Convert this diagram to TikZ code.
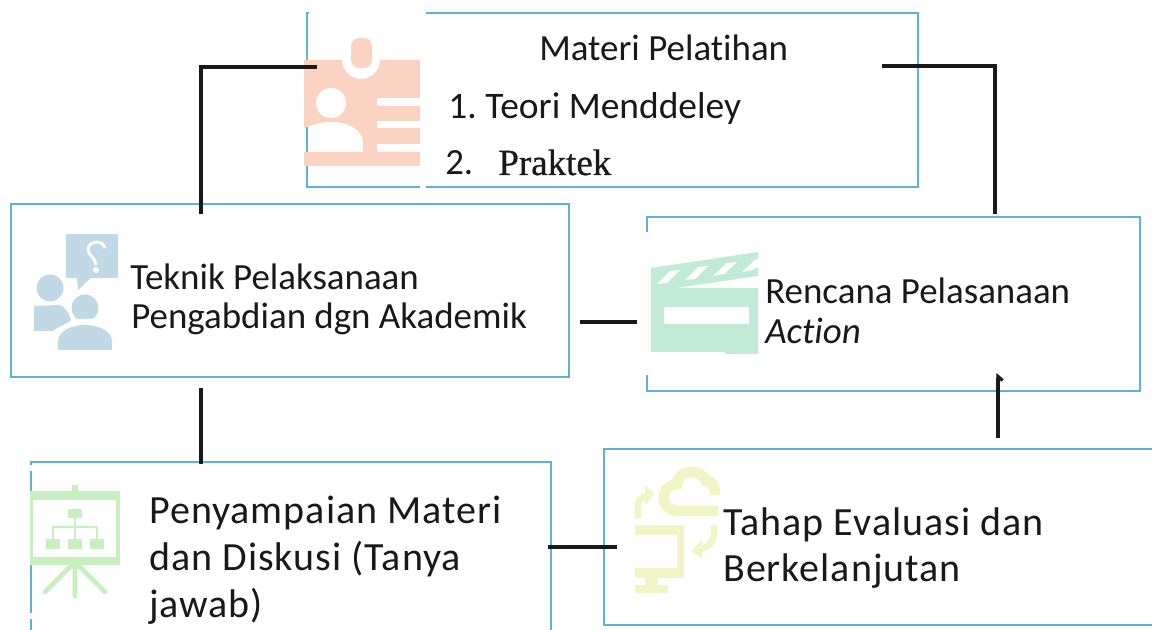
\documentclass[tikz,border=0pt]{standalone}
\usepackage{fontspec}
\setmainfont{Carlito}[Ligatures=NoCommon]
\newfontfamily\widefont{Carlito}[LetterSpace=2.5,Ligatures=NoCommon]
\newfontfamily\praktekfont{Liberation Serif}[FakeBold=0.6]
\usetikzlibrary{calc,arrows.meta}
\definecolor{boxline}{HTML}{5DB4CE}
\definecolor{badge}{HTML}{FBD3C2}
\definecolor{people}{HTML}{C0D9E5}
\definecolor{clapper}{HTML}{C1EAD7}
\definecolor{board}{HTML}{C8EFC0}
\definecolor{cloud}{HTML}{F1F5C5}
\tikzstyle{plain} = [rectangle, draw=boxline, line width=1.2pt, inner sep=0pt, outer sep=0pt]
\tikzstyle{joinline} = [line width=2.4pt, draw=black!90]
\tikzset{txt/.style={inner sep=0pt, anchor=base west, text=black!90, font=\fontsize{#1}{#1}\selectfont}}

\begin{document}
\begin{tikzpicture}[x=0.75pt, y=-0.75pt]
  \clip (0,0) rectangle (1152,630);
  \fill[white] (0,0) rectangle (1152,630);

  \node (materi) [plain, minimum width=458.25pt, minimum height=130.5pt] at (612.5,100) {};
  \node (teknik) [plain, minimum width=418.5pt, minimum height=129.75pt] at (290,290.5) {};
  \node (rencana) [plain, minimum width=369.75pt, minimum height=130.5pt] at (893.5,304) {};
  \node (penyampaian) [plain, minimum width=390pt, minimum height=133.5pt] at (291,551) {};
  \node (tahap) [plain, minimum width=424.5pt, minimum height=132pt] at (887,537) {};

  \fill[white] (309,8) rectangle (426,17);
  \fill[white] (420,8) rectangle (426,192);
  \fill[white] (642,232) rectangle (652,375);
  \fill[white] (26,465) rectangle (36,471);
  \fill[white] (26,613) rectangle (36,619);

  \fill[badge, even odd rule] (304,60) -- (342,60) arc[start angle=180, end angle=0, radius=19] -- (420,60) -- (420,166) -- (304,166) -- cycle
    (304,128) .. controls (314,124) and (322,122) .. (332,122) .. controls (348,122) and (363,130) .. (363,142) -- (363,152) -- (304,152) -- cycle
    (377,98) rectangle (420,106) (377,121) rectangle (420,128) (377,144) rectangle (420,152);
  \fill[white] (331,103) circle (15);
  \fill[badge, rounded corners=6] (351,38) rectangle (372,68);

  \fill[people] (66,234) rectangle (118,278);
  \fill[people] (77,277) -- (78,290) -- (92,277) -- cycle;
  \draw[white, line width=2.2pt] (105,248) .. controls (103,243) and (100,242) .. (97,242) .. controls (91,242) and (88,246) .. (88,250) .. controls (88,255) and (96,258) .. (96,265);
  \fill[white] (96,270) circle (3);
  \fill[people] (50,288) circle (13.5);
  \fill[people] (34,331) -- (34,306) -- (58,305) .. controls (66,306) and (69,314) .. (71,320) -- (57,331) -- cycle;
  \fill[white] (85,308) circle (16);
  \fill[people] (85,308) circle (13.5);
  \fill[white] (52,352) -- (54,330) -- (75,319) -- (100,319) -- (118,352) -- cycle;
  \fill[people] (58,350) -- (58,340) .. controls (60,330) and (72,325) .. (85,325) .. controls (98,325) and (110,330) .. (112,340) -- (112,350) -- cycle;

  \fill[clapper, even odd rule] (651,288) -- (758,288) -- (758,354) -- (725,354) -- (725,352) -- (651,352) -- cycle (664,307) rectangle (749,324);
  \fill[clapper] (651,268) -- (758,252) -- (758,276) -- (676,288) -- (651,288) -- cycle;
  \fill[white] (657,284) -- (670,271) -- (680,270) -- (667,283) -- cycle;
  \fill[white] (685,280) -- (698,267) -- (708,266) -- (695,279) -- cycle;
  \fill[white] (713,276) -- (727,263) -- (737,262) -- (724,274) -- cycle;
  \fill[white] (742,272) -- (755,260) -- (758,259) -- (758,267) -- (752,270) -- cycle;

  \fill[board] (72,485) rectangle (78,491);
  \fill[board] (30,491) rectangle (120,500);
  \fill[board] (30,557) rectangle (120,565);
  \fill[board] (30,500) rectangle (33,557);
  \fill[board] (116,500) rectangle (120,557);
  \draw[board, line width=3.6pt, line cap=round] (75,565) -- (75,596) (75,562) -- (45,592) (75,562) -- (105,592);
  \fill[board] (68,509) rectangle (82,518);
  \fill[board] (46,539) rectangle (60,549);
  \fill[board] (68,539) rectangle (82,549);
  \fill[board] (90,539) rectangle (104,549);
  \draw[board, line width=2pt] (75,518) -- (75,539) (53,539) -- (53,527) -- (97,527) -- (97,539);

  \draw[cloud, line width=8pt] (718,511) -- (680,511) .. controls (668,511) and (662,503) .. (664,495) .. controls (665,488) and (670,485) .. (677,484) .. controls (678,476) and (684,472) .. (691,472) .. controls (699,472) and (704,476) .. (706,481) .. controls (712,481) and (715,486) .. (715,495);
  \draw[cloud, line width=5pt] (638,518) -- (638,506) .. controls (638,500) and (641,497) .. (647,496);
  \fill[cloud] (654,494) -- (645,485) -- (645,505) -- cycle;
  \draw[cloud, line width=5pt] (714,525) -- (714,534) .. controls (714,541) and (708,548) .. (700,549);
  \fill[cloud] (691,551) -- (702,540) -- (702,558) -- cycle;
  \fill[cloud] (635,525) rectangle (684,535);
  \fill[cloud] (677,525) rectangle (684,578);
  \fill[cloud] (635,568) rectangle (684,578);
  \fill[cloud] (645,578) rectangle (658,585);
  \fill[cloud] (635,585) rectangle (668,593);

  \node (materititle) [txt=27.7pt] at (539,61) {Materi Pelatihan};
  \node (materione) [txt=28.1pt] at (448,119) {1.\hspace{-2pt} Teori Menddeley};
  \node (materitwo) [txt=27.7pt] at (445,175) {2.\hspace{0.68em}{\praktekfont Praktek}};
  \node (teknikone) [txt=27.7pt] at (130,290) {Teknik Pelaksanaan};
  \node (tekniktwo) [txt=27.7pt] at (131,329) {Pengabdian dgn Akademik};
  \node (rencanaone) [txt=27.7pt] at (765,304) {Rencana Pelasanaan};
  \node (rencanatwo) [txt=27.7pt] at (765,344) {\itshape Action};
  \node (penyampaianone) [txt=30pt] at (149,523) {\widefont Penyampaian Materi};
  \node (penyampaiantwo) [txt=30pt] at (149,570) {\widefont dan Diskusi (Tanya};
  \node (penyampaianthree) [txt=30pt] at (149,617) {\widefont jawab)};
  \node (tahapone) [txt=30pt] at (723,535) {\widefont Tahap Evaluasi dan};
  \node (tahaptwo) [txt=30pt] at (723,581) {\widefont Berkelanjutan};

  \draw [joinline] ($(teknik.north)+(-89,10)$) |- ($(materi.west)+(10,-33)$);
  \draw [joinline] ($(materi.east)+(-36,-34)$) -| ($(rencana.north)+(101.5,-3)$);
  \draw [joinline] ($(teknik.east)+(11,31.5)$) -- ($(rencana.west)+(-10,18)$);
  \draw [joinline] ($(teknik.south)+(-89,11)$) -- ($(penyampaian.north)+(-90,2)$);
  \draw [joinline] ($(penyampaian.east)+(-3,-4)$) -- ($(tahap.west)+(13,10)$);
  \draw [joinline, -{Straight Barb[right, length=3pt, width=7pt]}] ($(tahap.north)+(111,-11)$) -- ($(rencana.south)+(104.5,-18)$);
\end{tikzpicture}
\end{document}
